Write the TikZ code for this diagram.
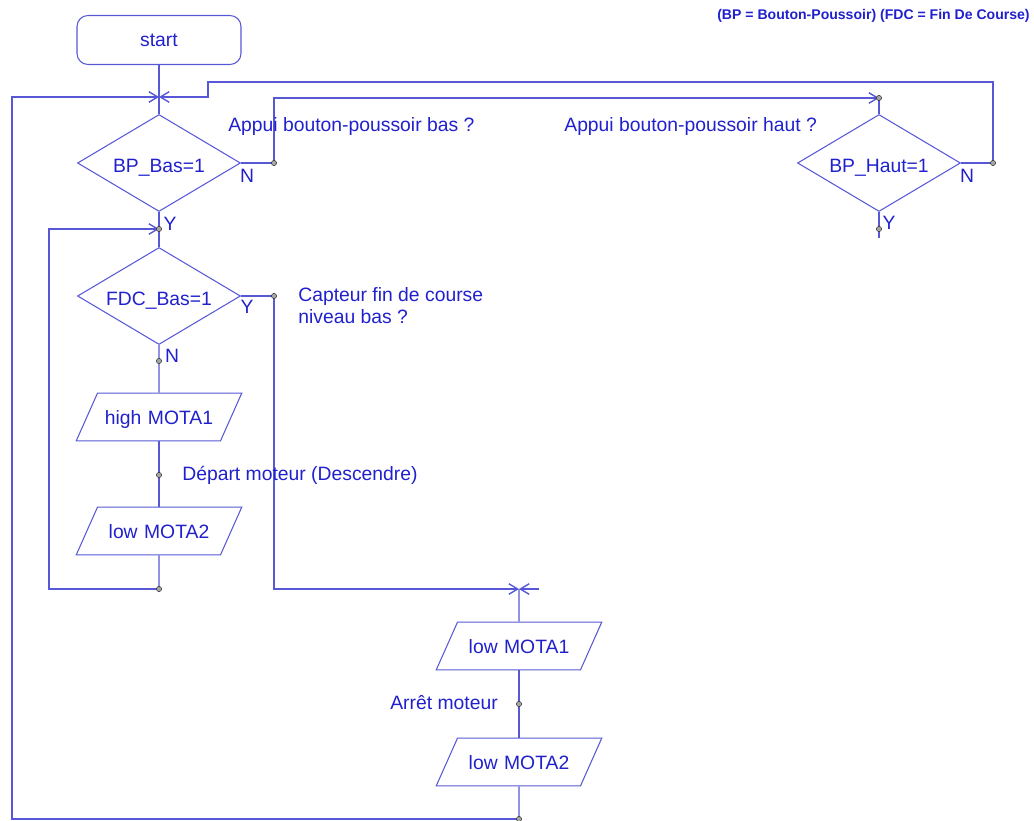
\documentclass[tikz,border=0pt]{standalone}
\usepackage{fontspec}
\setmainfont{Liberation Sans}
\usepackage{tikz}
\usetikzlibrary{
    arrows.meta,
    shapes.geometric
}

\definecolor{flowline}{RGB}{88,88,214}
\definecolor{flowtext}{RGB}{32,32,205}

\tikzset{
  every node/.style={font=\fontsize{11}{12.5}\selectfont, text=flowtext},
  startbox/.style={draw=flowline, line width=0.6pt, rounded corners=0.22cm,
    minimum width=3.28cm, minimum height=0.98cm, inner sep=0pt},
  decision/.style={draw=flowline, line width=0.6pt, diamond, aspect=1.68,
    minimum width=3.26cm, minimum height=1.94cm, inner sep=0pt,
    text height=11pt, text depth=0pt},
  iobox/.style={draw=flowline, line width=0.6pt, trapezium,
    trapezium left angle=66, trapezium right angle=114,
    text width=2.46cm, align=center, text height=9.5pt, text depth=1pt,
    inner xsep=0pt, inner ysep=8.35pt},
  flow/.style={draw=flowline, line width=0.8pt},
  flowarrow/.style={flow, -{Straight Barb[length=5pt,width=6pt]}},
  comment/.style={anchor=west, inner sep=0pt, align=left},
  branch/.style={inner sep=0pt},
  joint/.style={fill=gray!70, draw=gray!40!black, line width=0.3pt}
}

\begin{document}
\begin{tikzpicture}[x=0.02cm, y=-0.02cm]
  \useasboundingbox (0,0) rectangle (1034,821);

  % Legend
  \node[anchor=east, inner sep=0pt, font=\fontsize{8}{9}\selectfont\bfseries] (legend) at (1030,16)
    {(BP = Bouton-Poussoir) (FDC = Fin De Course)};

  % Blocks
  \node[startbox] (start) at (159,40) {start};
  \node[decision] (bpbas) at (159,163) {BP\_Bas=1};
  \node[decision] (bphaut) at (879,163) {BP\_Haut=1};
  \node[decision] (fdcbas) at (159,296) {FDC\_Bas=1};
  \node[iobox] (highA) at (159,417) {high MOTA1};
  \node[iobox] (lowB) at (159,531) {low MOTA2};
  \node[iobox] (lowA) at (519,646) {low MOTA1};
  \node[iobox] (lowBend) at (519,762) {low MOTA2};

  % Junction points
  \coordinate (jtop) at (159,97);
  \coordinate (jbasN) at (274,163);
  \coordinate (jbasY) at (159,229);
  \coordinate (jhaut) at (879,98);
  \coordinate (jhautN) at (993,163);
  \coordinate (jhautY) at (879,229);
  \coordinate (jfdcY) at (274,296);
  \coordinate (jfdcN) at (159,361);
  \coordinate (jdep) at (159,475);
  \coordinate (jloop) at (159,589);
  \coordinate (jstop) at (519,589);
  \coordinate (jstub) at (539,589);
  \coordinate (jarr) at (519,704);
  \coordinate (jend) at (519,819);

  % Main column
  \draw[flow] (start.south) -- (bpbas.north);
  \draw[flow] (bpbas.south) -- (fdcbas.north);
  \draw[flow] (fdcbas.south) -- (highA.north);
  \draw[flow] (highA.south) -- (lowB.north);
  \draw[flow] (lowB.south) -- (jloop);

  % Loops back to the top
  \draw[flowarrow] (jend) -| (12,97) -- (jtop);
  \draw[flowarrow] (jhautN) |- (208,82) |- (jtop);
  \draw[flowarrow] (jloop) -| (49,229) -- (jbasY);

  % Branches
  \draw[flowarrow] (bpbas.east) -- (jbasN) |- (jhaut);
  \draw[flow] (jhaut) -- (bphaut.north);
  \draw[flow] (bphaut.east) -- (jhautN);
  \draw[flow] (bphaut.south) -- (jhautY) -- ++(0,9);
  \draw[flowarrow] (fdcbas.east) -- (jfdcY) |- (jstop);
  \draw[flowarrow] (jstub) -- (jstop);

  % Stop column
  \draw[flow] (jstop) -- (lowA.north);
  \draw[flow] (lowA.south) -- (lowBend.north);
  \draw[flow] (lowBend.south) -- (jend);

  % Dots
  \foreach \p in {jbasN,jbasY,jhaut,jhautN,jhautY,jfdcY,jfdcN,jdep,jloop,jarr,jend}
    \filldraw[joint] (\p) circle (2.6);

  % Y / N labels
  \node[branch] (nbas) at (247,176) {N};
  \node[branch] (ybas) at (170,224) {Y};
  \node[branch] (nhaut) at (967,176) {N};
  \node[branch] (yhaut) at (889,223) {Y};
  \node[branch] (yfdc) at (247,307) {Y};
  \node[branch] (nfdc) at (172,356) {N};

  % Comments
  \node[comment] (cbas) at (228,127) {Appui bouton-poussoir bas ?};
  \node[comment] (chaut) at (564,127) {Appui bouton-poussoir haut ?};
  \node[comment, anchor=north west] (cfdc) at (298,287) {Capteur fin de course\\niveau bas ?};
  \node[comment] (cdep) at (182,475) {Départ moteur (Descendre)};
  \node[comment] (carr) at (390,703) {Arrêt moteur};

\end{tikzpicture}
\end{document}
